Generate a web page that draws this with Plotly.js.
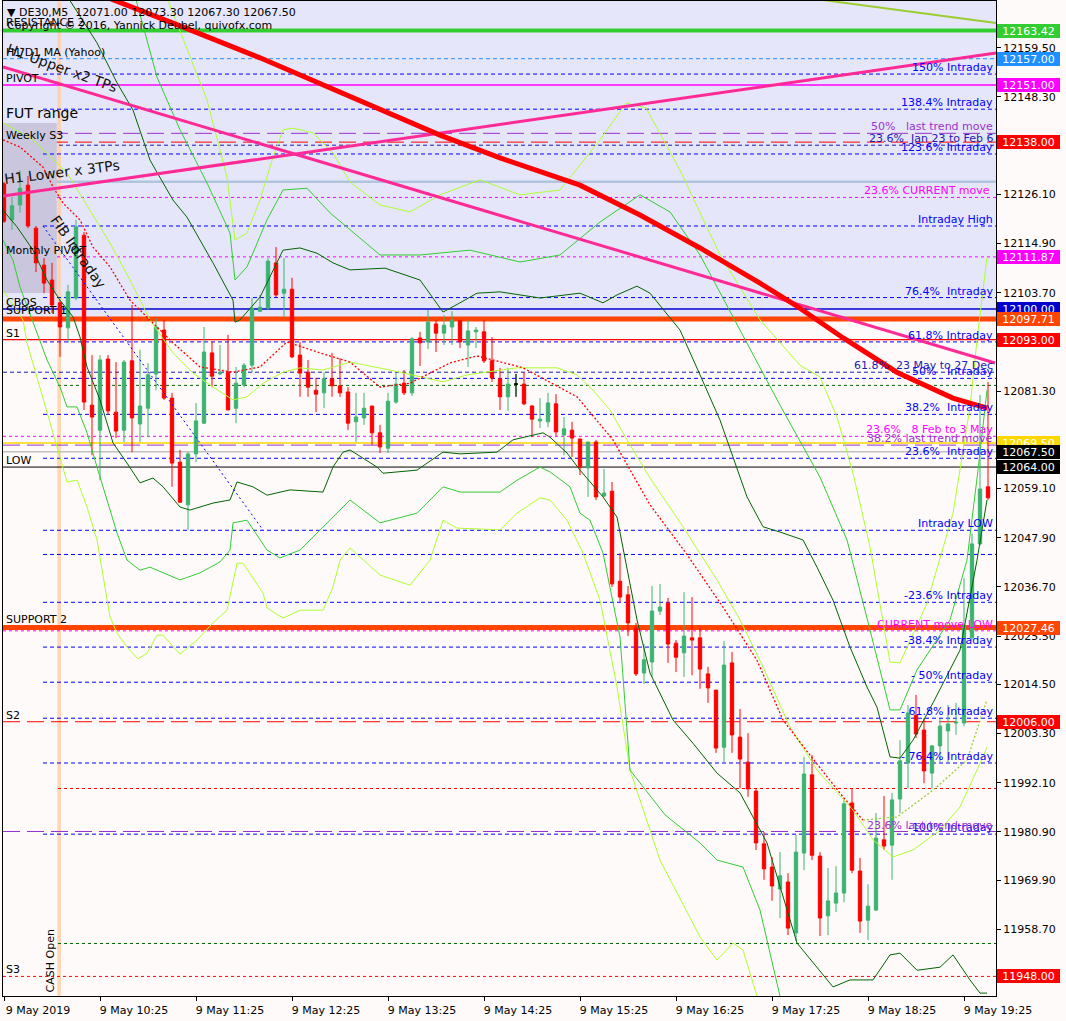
<!DOCTYPE html>
<html><head><meta charset="utf-8">
<script src="https://cdn.plot.ly/plotly-3.0.1.min.js"></script>
<style>html,body{margin:0;padding:0;background:#FFFAFA}#chart{width:1066px;height:1021px}</style>
</head><body><div id="chart"></div>
<script>
// ---------- DATA ----------
const timeLabels = ["9 May 2019","9 May 10:25","9 May 11:25","9 May 12:25","9 May 13:25","9 May 14:25","9 May 15:25","9 May 16:25","9 May 17:25","9 May 18:25","9 May 19:25"];
const barsPerLabel = 12;

const open = [12128.5,12120.3,12123.7,12128.2,12118.4,12110.0,12106.6,12101.4,12095.7,12102.5,
12116.8,12078.1,12072.4,12088.6,12076.5,12072.4,12088.2,12073.8,12077.4,12085.2,
12095.2,12079.7,12065.1,12055.4,12067.0,12074.0,12090.0,12085.2,12085.6,12077.4,
12082.7,12087.2,12099.5,12100.2,12110.5,12103.6,12104.5,12089.5,12085.6,12081.5,
12080.9,12084.1,12082.5,12081.1,12074.3,12075.2,12077.9,12071.8,12068.3,12078.8,
12083.1,12080.9,12093.4,12092.5,12096.6,12094.5,12095.9,12097.3,12091.8,12094.8,
12094.8,12088.2,12084.1,12080.0,12082.9,12082.9,12077.9,12074.5,12074.3,12078.4,
12071.3,12072.4,12070.4,12063.8,12069.7,12057.4,12058.5,12038.0,12034.9,12027.3,
12017.1,12019.6,12031.2,12033.0,12023.9,12021.7,12025.1,12025.1,12016.9,12013.2,
12000.2,12019.4,12002.5,11996.8,11990.2,11978.2,11972.9,11967.9,11969.5,11957.9,
11976.1,11993.9,11975.4,11961.8,11964.7,11967.0,11987.5,11972.0,11960.8,11963.1,
11979.1,11977.9,11988.4,11996.6,12007.5,12004.1,11994.3,12000.5,12003.9,12005.7,
12005.7,12025.1,12046.5,12059.5];
const high = [12128.9,12125.5,12131.6,12130.3,12118.9,12111.6,12110.5,12102.0,12105.5,12120.3,
12117.5,12089.5,12089.5,12089.5,12087.9,12088.4,12100.9,12090.7,12087.7,12097.9,
12097.5,12080.9,12067.9,12067.4,12078.6,12095.9,12092.5,12091.8,12094.1,12086.8,
12087.7,12102.5,12103.2,12111.6,12114.1,12111.6,12107.1,12092.5,12088.4,12084.3,
12085.6,12090.0,12088.8,12082.2,12080.9,12080.9,12077.9,12073.6,12080.9,12085.4,
12086.1,12093.6,12094.8,12099.8,12097.5,12098.6,12099.5,12097.5,12097.5,12095.9,
12097.5,12093.6,12086.6,12086.6,12085.2,12085.6,12078.1,12079.7,12080.9,12080.6,
12075.4,12074.3,12070.4,12069.7,12070.2,12063.6,12060.6,12044.4,12036.9,12028.5,
12023.7,12036.9,12037.4,12034.2,12024.6,12035.5,12034.4,12027.3,12018.5,12013.2,
12024.4,12021.9,12008.9,12003.4,11990.9,11980.9,11975.2,11976.3,11971.5,11980.2,
11998.0,11998.4,11976.3,11972.7,11973.1,11988.6,11990.9,11975.0,11969.0,11985.2,
11989.1,11989.8,12001.8,12009.8,12012.1,12006.8,12000.7,12006.6,12009.8,12010.3,
12038.7,12048.8,12080.4,12083.4];
const low = [12119.6,12118.0,12121.9,12118.4,12108.4,12103.6,12099.1,12089.1,12092.3,12102.0,
12077.0,12066.7,12061.0,12075.9,12070.6,12069.7,12067.4,12069.7,12070.8,12081.5,
12079.3,12059.5,12055.8,12049.7,12065.1,12073.8,12082.2,12085.0,12077.0,12074.0,
12082.2,12085.6,12099.3,12099.8,12102.7,12098.2,12088.8,12080.0,12080.0,12076.5,
12077.4,12080.0,12080.0,12072.4,12069.7,12073.6,12069.0,12067.2,12067.2,12078.4,
12080.4,12080.2,12087.0,12090.9,12090.2,12091.8,12091.8,12091.1,12086.8,12091.1,
12087.7,12083.4,12077.0,12076.8,12080.0,12078.1,12070.8,12072.9,12073.1,12071.1,
12066.7,12066.3,12062.2,12057.2,12056.5,12057.2,12036.7,12033.3,12025.5,12016.4,
12014.6,12016.2,12030.3,12019.4,12017.3,12016.2,12016.6,12013.5,12010.3,11998.9,
11996.8,11998.9,11990.9,11988.9,11976.8,11970.0,11965.2,11961.3,11957.4,11956.1,
11972.2,11974.5,11957.2,11957.4,11962.7,11964.9,11971.5,11957.9,11956.3,11962.9,
11976.8,11970.0,11985.2,11990.9,12002.3,11992.0,11990.9,11996.8,11996.8,12003.0,
12005.0,12024.6,12046.2,12056.5];
const close = [12120.0,12123.5,12127.5,12118.9,12110.5,12105.9,12100.9,12095.9,12103.9,12118.7,
12078.8,12075.4,12088.4,12076.8,12072.2,12087.9,12075.2,12077.9,12085.0,12095.9,
12079.7,12064.9,12056.0,12067.0,12074.5,12090.2,12084.7,12085.6,12077.0,12083.1,
12087.2,12100.2,12100.4,12110.9,12103.2,12104.5,12089.1,12085.4,12082.2,12080.6,
12084.1,12082.5,12080.9,12074.0,12075.4,12077.4,12071.8,12068.6,12079.0,12082.9,
12080.9,12093.2,12092.3,12097.0,12094.5,12096.3,12097.5,12092.5,12095.0,12095.2,
12088.2,12084.3,12080.0,12082.9,12082.9,12078.4,12074.9,12074.9,12078.6,12072.0,
12072.7,12070.6,12064.0,12069.7,12057.2,12058.1,12037.4,12034.4,12028.5,12016.9,
12020.1,12031.2,12032.1,12023.7,12020.7,12025.5,12024.6,12018.0,12013.7,12000.0,
12018.9,12003.0,11997.5,11990.7,11978.4,11972.5,11968.6,11970.9,11959.0,11976.3,
11994.1,11975.6,11961.3,11965.2,11967.0,11987.3,11972.2,11960.6,11964.0,11979.5,
11977.7,11988.2,11997.1,12008.0,12003.2,11994.8,12000.5,12005.0,12005.5,12005.9,
12028.0,12046.5,12059.0,12057.0];
const dojiBar = 64;

// price scale ticks (the ones hidden under price boxes are omitted)
const yTickVals = [12159.50,12148.30,12126.10,12114.90,12103.70,12081.30,12059.10,12047.90,12036.70,12025.50,12014.50,12003.30,11992.10,11980.90,11969.90,11958.70];

// highlighted price boxes on the scale
const boxPrices = [12163.42,12157.00,12151.00,12138.00,12111.87,12100.00,12097.71,12093.00,12069.50,12067.50,12064.00,12027.46,12006.00,11948.00];

// horizontal levels
const fullLevels = [12163.42,12157.00,12151.00,12140.0,12138.00,12137.3,12129.0,12125.4,12111.87,12100.00,12097.71,12093.00,12085.6,12071.0,12069.50,12069.0,12067.50,12064.00,12027.46,12026.7,12006.00,11981.0,11948.00];
const cashLevels = [12082.6,11990.8,11955.5];
const intradayLevels = [12153.5,12145.5,12135.3,12118.9,12102.6,12092.5,12084.2,12076.0,12066.0,12049.6,12044.1,12033.2,12023.0,12015.0,12006.8,11996.6,11980.4];
const intradayLabels = ["150% Intraday","138.4% Intraday","123.6% Intraday","Intraday High","76.4%  Intraday","61.8% Intraday","50%   Intraday","38.2%  Intraday","23.6%  Intraday","Intraday LOW","","-23.6% Intraday","-38.4% Intraday","- 50% Intraday","- 61.8% Intraday","- 76.4% Intraday","-100% Intraday"];
const otherLabels = ["50%   last trend move","23.6%  Jan 23 to Feb 6","23.6% CURRENT move ","61.8%  23 May to 27 Dec","23.6%   8 Feb to 3 May","38.2% last trend move","CURRENT move LOW","23.6% last trend move"];
const otherLabelLevels = [12140.0,12137.3,12125.4,12085.6,12071.0,12069.0,12026.7,11981.0];
const leftLabels = ["RESISTANCE 2","H1 D1 MA (Yahoo)","PIVOT","Weekly S3","Monthly PIVOT","CBOS","SUPPORT 1","S1","LOW","SUPPORT 2","S2","S3"];
const leftLabelLevels = [12163.42,12157.00,12151.00,12138.00,12111.87,12100.00,12097.71,12093.00,12064.00,12027.46,12006.00,11948.00];

// zones
const futRange = [12103.63,12142.35];
const futBars = [-0.125,6.6];
const cashOpenBar = [6.66,7.12];
const intradayStartBar = 4.875;
const cashStartBar = 6.75;

// trend lines
const pinkDownX = [-0.125,123.875], pinkDownY = [12155.10,12087.69];
const pinkUpX = [-0.125,124], pinkUpY = [12125.72,12158.29];
const ygTopX = [102.25,124], ygTopY = [12170.4,12165.1];
const fibX = [4.875,32.375], fibY = [12118.89,12049.66];

// heavy MA
const maX = [10,13.75,17.6,22.4,32,43.25,54.5,62,72,79.5,87,94.5,98.9,104.9,111.6,118.6,122.9];
const maY = [12173.0,12170.36,12167.6,12164.2,12157.2,12148.3,12139.6,12134.4,12128.2,12121.4,12113.9,12105.9,12100.9,12093.4,12085.6,12079.7,12077.4];

// bands
const ubyX = [19.75,22.875,25.375,27.875,28.875,30.375,32,33.625,34.875,36.125,38.625,41.125,43.25,47,50.75,54.5,59.5,64.5,69.5,74.5,77.75,80.25,84.5,89.5,94.5,99.5,102,104.125,106.125,108.25,110.75,112,115.375,118.625,120.75,121.625,122.875];
const ubyY = [12173.8,12159.0,12147.6,12130.0,12115.7,12117.3,12124.8,12134.6,12140.8,12141.2,12140.1,12135.5,12128.9,12123.7,12122.1,12126.0,12129.4,12126.0,12127.1,12138.5,12146.9,12145.8,12131.6,12112.3,12097.5,12087.2,12084.5,12075.4,12062.6,12045.8,12019.6,12019.4,12033.0,12053.5,12077.7,12092.9,12111.8];
const ubgX = [16,19.125,22,25.375,28.25,28.875,30.375,32.875,34.875,37.875,40.75,43.25,47,52,58.25,64.5,69.5,74.5,79.5,83.25,87,92,97,102,105.375,108.25,110.75,112,114.125,118.25,120.375,121.75,122.875];
const ubgY = [12173.8,12152.8,12140.8,12128.7,12117.3,12106.6,12109.6,12120.3,12127.1,12127.5,12121.9,12118.0,12112.3,12112.3,12113.4,12110.7,12112.3,12119.8,12126.0,12122.1,12112.3,12095.2,12078.1,12061.7,12047.4,12026.9,12008.7,12008.7,12017.8,12029.2,12042.8,12063.3,12081.5];
const ubdX = [7,11.625,14.125,16.125,18.25,21.125,22.875,26.125,28.625,28.875,29.5,32,34.875,37,39.125,41.125,43.25,47.625,52,54.875,57,59.125,62,67,72,74.875,76.625,79.125,80.75,84.5,87,89.5,92.875,94.875,97,99.875,101.625,103.625,105.75,107.875,109.125,110.75,112,113.625,116.125,119.5,121.625,122.875];
const ubdY = [12173.8,12160.6,12151.5,12145.3,12133.9,12124.8,12120.9,12110.5,12102.0,12097.0,12097.5,12102.7,12113.4,12113.9,12112.7,12110.5,12108.9,12109.3,12106.6,12099.3,12101.4,12103.6,12103.9,12102.5,12103.6,12101.4,12103.2,12105.2,12103.6,12095.2,12085.0,12074.7,12057.2,12050.4,12049.2,12047.4,12041.2,12033.7,12023.0,12013.9,12009.3,11998.0,11997.7,12001.8,12010.3,12022.3,12042.8,12056.5];
const lbdX = [-0.125,1.625,3.625,5.375,7,8.625,9.5,10.375,12,13.625,15.375,17,18.625,19.875,22,23.25,26.125,28.25,29.125,31.125,32.875,35.75,39.875,41.125,42.375,43.25,46.625,47.375,51.625,54.875,57,61.625,63.625,67.375,68.25,70.375,72,74.875,76.625,79.125,80.75,83.625,86.125,89.125,92,95.375,99.125,101.625,103.625,105.75,108.625,110.75,112,114.125,117,118.625,120.75,122,122.875];
const lbdY = [12122.5,12118.7,12113.4,12106.6,12102.0,12098.2,12093.6,12086.8,12079.3,12069.5,12064.9,12060.4,12061.5,12059.5,12054.9,12054.2,12055.8,12056.5,12060.6,12059.5,12057.6,12058.8,12058.3,12064.0,12067.4,12067.9,12064.0,12062.6,12063.3,12067.4,12067.0,12067.4,12070.2,12071.8,12070.8,12067.2,12063.3,12057.2,12052.6,12029.2,12017.1,12006.4,12001.1,11994.3,11989.8,11978.4,11955.6,11950.1,11945.6,11947.2,11947.2,11952.9,11953.3,11949.4,11950.1,11952.9,11947.2,11944.2,11944.2];
const lbgX = [-0.125,1.125,2,3.625,5.375,7,7.875,9.125,10.375,11.625,12.875,14.125,15.375,17,18.25,22,24.5,27,28.25,28.625,30.375,32.875,34.5,37,41.125,43.25,47,51.625,54.875,57,62,64.125,67,68.25,70.75,72,73.25,74.875,77,78.25,82.625,87,89.125,92.375,94.5,97,97.75];
const lbgY = [12115.7,12111.1,12105.0,12096.8,12088.4,12082.2,12077.7,12077.7,12071.8,12064.0,12056.5,12049.0,12042.8,12040.5,12041.2,12038.3,12039.9,12042.4,12045.1,12051.3,12051.9,12045.1,12043.3,12045.1,12052.6,12056.5,12051.3,12053.5,12059.5,12058.3,12058.3,12061.0,12064.0,12062.9,12059.5,12053.5,12051.9,12044.4,12025.3,11995.0,11984.8,11978.4,11974.5,11972.9,11963.1,11943.5,11940.3];
const lbyX = [-0.125,2.375,2.875,4.125,5.375,6.625,7.875,9.125,10.375,11.625,13.25,14.125,15.375,16.75,17.875,19.125,19.875,22,24.125,26.125,27.875,29.125,29.875,32.375,32.875,34.875,37,39.875,41.125,42,43.25,47,50.75,53.25,54.875,56.625,62,64.125,67,68.25,70.375,72.375,74.5,76.625,78.25,82,87,89.125,91.125,92.375,94.125,94.75];
const lbyY = [12104.3,12097.5,12092.3,12084.5,12077.0,12068.6,12060.6,12061.0,12054.9,12047.4,12029.9,12026.2,12023.0,12020.3,12021.6,12025.7,12025.7,12021.4,12024.6,12028.5,12031.4,12042.1,12042.1,12035.3,12031.9,12029.6,12031.4,12031.4,12036.7,12042.8,12045.6,12039.4,12037.1,12042.8,12051.9,12050.1,12049.7,12053.5,12057.0,12056.5,12051.9,12044.4,12033.7,12013.9,11995.0,11974.5,11957.0,11951.7,11955.6,11954.0,11943.5,11940.3];
const myX = [-0.125,3.625,7.875,10.75,13.25,15.75,18.25,21.125,23.625,26.125,28.625,30.375,32.375,34.875,37,39.875,43.25,48.25,54.875,57.875,64.125,69.125,71.625,73.625,75.75,77.875,80.75,84.875,89.125,92,94.875,98.25,101.625,106.125,108.625,111.125,113.625,117,119.5,121.625,122.875];
const myY = [12142.4,12138.5,12131.0,12122.5,12115.0,12106.6,12097.5,12090.0,12085.4,12082.2,12079.3,12080.0,12083.1,12085.6,12086.6,12086.1,12087.9,12086.1,12083.4,12085.0,12086.6,12086.6,12085.0,12081.5,12077.0,12070.2,12061.5,12050.4,12038.3,12029.2,12018.5,12004.8,11995.0,11985.9,11979.1,11975.2,11976.8,11981.3,11986.6,11995.0,12000.2];
const rdX = [-0.125,2,4.875,6.125,7.375,9.5,11.125,13.25,15.75,18.25,21.125,24.5,28.625,32,35.375,39.5,43.25,47,50.75,55.75,59.125,64.875,71.625,76.125,80.75,85.25,89.875,94.125,97.375,100.75,104.875,107.375];
const rdY = [12138.5,12136.9,12132.3,12127.8,12124.1,12120.3,12114.1,12109.6,12102.0,12097.5,12092.3,12086.8,12085.6,12086.8,12092.5,12090.0,12087.9,12082.2,12083.1,12087.7,12089.3,12086.6,12080.0,12070.2,12055.4,12044.4,12032.1,12020.0,12006.4,11998.4,11988.9,11983.6];
const gdX = [107.375,111.625,116.125,120.375,122.875];
const gdY = [11983.6,11984.3,11990.4,11997.3,12011.0];

// ---------- STYLE ----------
const FONT = "DejaVu Sans, Verdana, sans-serif";
const FS = 11;
const NB = s => s.replace(/ /g, "\u00a0");
const Y_TOP = 12170.14, Y_BOT = 11943.54;
const blue = "#0000FF", navy = "#1C1CB0", purple = "#9932CC", magenta = "#FF00FF";

const fullStyles = [
 ["#32CD32",4,"solid"],["#1E90FF",1,"4px,3px"],["#FF00FF",1.5,"solid"],["#9932CC",1,"17px,7px"],
 ["#FF0000",1,"17px,7px"],[navy,1,"4px,3px"],["#B0C4DE",2.5,"solid"],["#FF00FF",1,"3px,3px"],
 ["#FF00FF",1,"3px,3px"],["#0000CD",1.5,"solid"],["#FF4500",5,"solid"],["#FF0000",1.2,"solid"],
 [navy,1,"4px,3px"],["#FF00FF",1,"3px,3px"],["#FFD700",1.5,"solid"],["#9932CC",1,"17px,7px"],
 ["#C0C0C0",1.5,"solid"],["#000000",1,"solid"],["#FF4500",5,"solid"],["#FF00FF",1,"3px,3px"],
 ["#FF0000",1,"17px,7px"],["#9932CC",1,"17px,7px"],["#FF0000",1,"3px,3px"]];
const cashStyles = [["#006400","3px,3px"],["#FF0000","3px,3px"],["#006400","3px,3px"]];
const boxColors = ["#32CD32","#1E90FF","#FF00FF","#FF0000","#FF00FF","#0000CD","#FF4500","#FF0000","#FFD700","#000000","#000000","#FF4500","#FF0000","#FF0000"];
const otherColors = [purple,navy,magenta,navy,magenta,purple,magenta,purple];

const shapes = [];
shapes.push({type:"rect",xref:"paper",x0:0,x1:1,yref:"y",y0:fullLevels[10],y1:Y_TOP+1,fillcolor:"#E6E6FA",line:{width:0},layer:"below"});
shapes.push({type:"rect",xref:"x",x0:futBars[0],x1:futBars[1],yref:"y",y0:futRange[0],y1:futRange[1],fillcolor:"#C9C6DD",line:{width:0},layer:"below"});
shapes.push({type:"rect",xref:"x",x0:cashOpenBar[0],x1:cashOpenBar[1],yref:"paper",y0:0,y1:1,fillcolor:"rgba(255,205,160,0.78)",line:{width:0},layer:"below"});
intradayLevels.forEach(p=>shapes.push({type:"line",xref:"x",x0:intradayStartBar,x1:124,yref:"y",y0:p,y1:p,line:{color:blue,width:1,dash:"4px,3px"},layer:"below"}));
cashLevels.forEach((p,i)=>shapes.push({type:"line",xref:"x",x0:cashStartBar,x1:124,yref:"y",y0:p,y1:p,line:{color:cashStyles[i][0],width:1,dash:cashStyles[i][1]},layer:"below"}));
fullLevels.forEach((p,i)=>shapes.push({type:"line",xref:"paper",x0:0,x1:1,yref:"y",y0:p,y1:p,line:{color:fullStyles[i][0],width:fullStyles[i][1],dash:fullStyles[i][2]},layer:"below"}));

const ann = [];
const base = {showarrow:false,borderpad:0,borderwidth:0,font:{family:FONT,size:FS,color:"#000"}};
intradayLabels.forEach((t,i)=>{ if(t) ann.push(Object.assign({},base,{xref:"paper",x:1,xanchor:"right",xshift:-3,yref:"y",y:intradayLevels[i],yanchor:"bottom",yshift:0,text:NB(t),font:{family:FONT,size:FS,color:blue}})); });
otherLabels.forEach((t,i)=>ann.push(Object.assign({},base,{xref:"paper",x:1,xanchor:"right",xshift:-3,yref:"y",y:otherLabelLevels[i],yanchor:"bottom",yshift:0,text:NB(t),font:{family:FONT,size:FS,color:otherColors[i]}})));
leftLabels.forEach((t,i)=>ann.push(Object.assign({},base,{xref:"paper",x:0,xanchor:"left",xshift:3,yref:"y",y:leftLabelLevels[i],yanchor:"bottom",yshift:(i===0||i===6||i===9)?2:0,text:NB(t)})));
ann.push(Object.assign({},base,{xref:"paper",x:0,xanchor:"left",xshift:3,yref:"y",y:futRange[1],yanchor:"bottom",yshift:2,text:"FUT range",font:{family:FONT,size:14,color:"#000"}}));
ann.push(Object.assign({},base,{xref:"paper",x:0,xanchor:"left",xshift:4,yref:"paper",y:1,yanchor:"top",yshift:-5,text:NB("▼ DE30,M5  12071.00 12073.30 12067.30 12067.50")}));
ann.push(Object.assign({},base,{xref:"paper",x:0,xanchor:"left",xshift:4,yref:"paper",y:1,yanchor:"top",yshift:-18,text:"Copyright © 2016, Yannick Deubel, quivofx.com"}));
ann.push(Object.assign({},base,{xref:"x",x:7.3,yref:"y",y:12154.9,text:"H1 Upper x2 TPs",textangle:20,font:{family:FONT,size:14,color:"#111"}}));
ann.push(Object.assign({},base,{xref:"x",x:7.3,yref:"y",y:12131.2,text:"H1 Lower x 3TPs",textangle:-7,font:{family:FONT,size:14,color:"#111"}}));
ann.push(Object.assign({},base,{xref:"x",x:9.3,yref:"y",y:12113.0,text:"FIB Intraday",textangle:55,font:{family:FONT,size:14,color:"#111"}}));
ann.push(Object.assign({},base,{xref:"x",x:5.8,yref:"y",y:11951.5,text:"CASH Open",textangle:-90}));
boxPrices.forEach((p,i)=>ann.push({xref:"paper",x:1,xanchor:"left",xshift:1,yref:"y",y:p,yanchor:"middle",showarrow:false,text:p.toFixed(2),bgcolor:boxColors[i],borderpad:0,borderwidth:0,width:63,height:14,align:"center",font:{family:FONT,size:FS,color:"#FFFFFF"}}));

const idx = open.map((_,i)=>i);
const line = (x,y,color,width,dash)=>({type:"scatter",mode:"lines",x:x,y:y,line:{color:color,width:width,dash:dash||"solid"},hoverinfo:"skip",showlegend:false});
const traces = [
 {type:"candlestick",x:idx,open:open,high:high,low:low,close:close,
  increasing:{line:{color:"#3CB371",width:1},fillcolor:"#3CB371"},
  decreasing:{line:{color:"#FF0000",width:1},fillcolor:"#FF0000"},
  whiskerwidth:0,hoverinfo:"skip",showlegend:false},
 {type:"candlestick",x:[dojiBar,dojiBar+200],open:[open[dojiBar],0],high:[high[dojiBar],0],low:[low[dojiBar],0],close:[close[dojiBar],0],
  increasing:{line:{color:"#000",width:1},fillcolor:"#000"},decreasing:{line:{color:"#000",width:1},fillcolor:"#000"},hoverinfo:"skip",showlegend:false},
 line(ubyX,ubyY,"#ADFF2F",1), line(lbyX,lbyY,"#ADFF2F",1),
 line(ubgX,ubgY,"#32CD32",1), line(lbgX,lbgY,"#32CD32",1),
 line(ubdX,ubdY,"#006400",1), line(lbdX,lbdY,"#006400",1),
 line(myX,myY,"#ADFF2F",1),
 line(rdX,rdY,"#FF0000",1.3,"2px,2px"), line(gdX,gdY,"#9ACD32",1.3,"2px,2px"),
 line(fibX,fibY,"#0000FF",1,"2px,3px"),
 line(pinkDownX,pinkDownY,"#FF2A95",3), line(pinkUpX,pinkUpY,"#FF2A95",3),
 line(ygTopX,ygTopY,"#9ACD32",2),
 line(maX,maY,"#FF0000",5)
];

const layout = {
 width:1066,height:1021,margin:{l:3,r:70,t:1,b:25,pad:0},
 paper_bgcolor:"#FFFAFA",plot_bgcolor:"#FFFAFA",showlegend:false,hovermode:false,
 boxgap:0.4,
 font:{family:FONT,size:FS,color:"#000"},
 xaxis:{range:[-0.125,124],showgrid:false,zeroline:false,showline:true,mirror:true,linecolor:"#000",linewidth:1,
   ticks:"outside",ticklen:4,tickcolor:"#000",tickvals:timeLabels.map((_,i)=>i*barsPerLabel),ticktext:timeLabels,
   ticklabelshift:34,tickfont:{family:FONT,size:FS,color:"#000"},rangeslider:{visible:false},fixedrange:true},
 yaxis:{range:[Y_BOT,Y_TOP],side:"right",showgrid:false,zeroline:false,showline:true,mirror:true,linecolor:"#000",linewidth:1,
   ticks:"outside",ticklen:4,tickcolor:"#000",tickvals:yTickVals,ticktext:yTickVals.map(v=>v.toFixed(2)),
   tickfont:{family:FONT,size:FS,color:"#000"},fixedrange:true},
 shapes:shapes,annotations:ann
};
Plotly.newPlot("chart",traces,layout,{staticPlot:true,displayModeBar:false});
</script></body></html>
